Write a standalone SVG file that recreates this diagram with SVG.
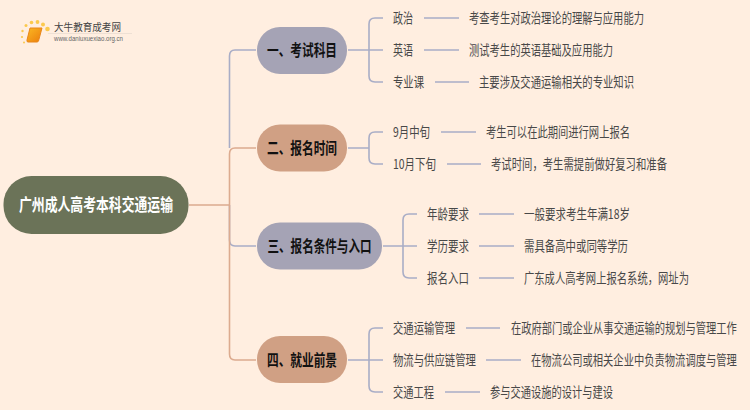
<svg xmlns="http://www.w3.org/2000/svg" width="750" height="410" viewBox="0 0 750 410">
<style>
text{font-family:"Noto Sans CJK SC","Liberation Sans",sans-serif;dominant-baseline:central;}
.leaf{font-size:13.500px;fill:#484848;}
.n{font-size:16px;font-weight:700;fill:#111;text-anchor:middle;}
.root{font-size:17px;font-weight:700;fill:#fff;text-anchor:middle;}
.b{fill:none;stroke:#a9adc6;stroke-width:1.6;}
.o{fill:none;stroke:#dcab8f;stroke-width:1.6;}
</style>
<defs><linearGradient id="book" x1="0" y1="0" x2="1" y2="1"><stop offset="0" stop-color="#fbb823"/><stop offset="1" stop-color="#ec7d0c"/></linearGradient></defs>
<rect width="750" height="410" fill="#ffeee0"/>
<g id="connectors">
<path class="b" d="M229.500 148V56Q229.500 50 235 50H256M229.500 205V240Q229.500 246 235 246H256"/>
<path class="o" d="M189 205H229.500M229.500 205V154Q229.500 148 235 148H256M229.500 205V354Q229.500 360 235 360H256"/>
<path class="b" d="M348 50H383M369 50V24Q369 18 375 18H383M369 50V76Q369 82 375 82H383"/>
<path class="b" d="M424 18H459M424 50H459M435 82H469"/>
<path class="b" d="M348 148H369M369 148V138Q369 132 375 132H383M369 148V158Q369 164 375 164H383"/>
<path class="b" d="M441 132H476M447 164H481"/>
<path class="b" d="M383 246H403M403 246V220Q403 214 409 214H417M403 246V272Q403 278 409 278H417M403 246H417"/>
<path class="b" d="M479 214H514M479 246H514M479 278H514"/>
<path class="b" d="M348 360H383M369 360V334Q369 328 375 328H383M369 360V386Q369 392 375 392H383"/>
<path class="b" d="M466 328H500M486 360H521M445 392H480"/>
</g>
<g id="logo">
<g fill="#fbc94d"><circle cx="47.500" cy="29" r="2.300"/><circle cx="43" cy="24.500" r="2"/><circle cx="37.500" cy="22" r="1.900"/><circle cx="31.500" cy="22.500" r="1.800"/><circle cx="26" cy="25.500" r="1.500"/><circle cx="22.500" cy="31" r="1.200"/><circle cx="22" cy="37" r="1.100"/><circle cx="24" cy="42.500" r="1"/></g>
<path d="M30 28H42L38.500 41Q38 42 37 42H28Q26.500 42 27 40Z" fill="url(#book)" stroke="#e8861a" stroke-width="1"/>
<text x="54" y="26.500" font-size="10.500" fill="#444" textLength="67" lengthAdjust="spacingAndGlyphs">大牛教育成考网</text>
<path d="M48 33.500H132" stroke="#eee0d4" stroke-width="1"/>
<text x="54" y="38.500" style="font-family:'Liberation Sans',sans-serif" font-size="6.500" fill="#666" textLength="69" lengthAdjust="spacingAndGlyphs">www.daniuxuexiao.org.cn</text>
</g>
<g id="root"><rect x="3.500" y="176" width="185" height="58" rx="28" fill="#6b7358"/><text class="root" x="96" y="203.500" textLength="154" lengthAdjust="spacingAndGlyphs">广州成人高考本科交通运输</text></g>
<g id="n1"><rect x="257" y="27" width="90" height="47" rx="23" fill="#a5a3b5"/><text class="n" x="302" y="49" textLength="70" lengthAdjust="spacingAndGlyphs">一、考试科目</text></g>
<g id="n2"><rect x="257" y="124.500" width="90" height="47" rx="23" fill="#d0a084"/><text class="n" x="302" y="147" textLength="70" lengthAdjust="spacingAndGlyphs">二、报名时间</text></g>
<g id="n3"><rect x="257" y="222.500" width="125" height="47" rx="23" fill="#a5a3b5"/><text class="n" x="319.500" y="245" textLength="104" lengthAdjust="spacingAndGlyphs">三、报名条件与入口</text></g>
<g id="n4"><rect x="257" y="336" width="90" height="47" rx="23" fill="#d0a084"/><text class="n" x="302" y="359" textLength="70" lengthAdjust="spacingAndGlyphs">四、就业前景</text></g>
<g id="l1"><text class="leaf" x="393" y="17" textLength="20" lengthAdjust="spacingAndGlyphs">政治</text></g>
<g id="l2"><text class="leaf" x="393" y="49" textLength="20" lengthAdjust="spacingAndGlyphs">英语</text></g>
<g id="l3"><text class="leaf" x="393" y="81" textLength="31" lengthAdjust="spacingAndGlyphs">专业课</text></g>
<g id="d1"><text class="leaf" x="469" y="17" textLength="175" lengthAdjust="spacingAndGlyphs">考查考生对政治理论的理解与应用能力</text></g>
<g id="d2"><text class="leaf" x="469" y="49" textLength="144" lengthAdjust="spacingAndGlyphs">测试考生的英语基础及应用能力</text></g>
<g id="d3"><text class="leaf" x="479" y="81" textLength="155" lengthAdjust="spacingAndGlyphs">主要涉及交通运输相关的专业知识</text></g>
<g id="l4"><text class="leaf" x="393" y="131" textLength="37" lengthAdjust="spacingAndGlyphs">9月中旬</text></g>
<g id="l5"><text class="leaf" x="393" y="163" textLength="43" lengthAdjust="spacingAndGlyphs">10月下旬</text></g>
<g id="d4"><text class="leaf" x="486" y="131" textLength="144" lengthAdjust="spacingAndGlyphs">考生可以在此期间进行网上报名</text></g>
<g id="d5"><text class="leaf" x="491" y="163" textLength="176" lengthAdjust="spacingAndGlyphs">考试时间，考生需提前做好复习和准备</text></g>
<g id="l6"><text class="leaf" x="427" y="213" textLength="42" lengthAdjust="spacingAndGlyphs">年龄要求</text></g>
<g id="l7"><text class="leaf" x="427" y="245" textLength="42" lengthAdjust="spacingAndGlyphs">学历要求</text></g>
<g id="l8"><text class="leaf" x="427" y="277" textLength="42" lengthAdjust="spacingAndGlyphs">报名入口</text></g>
<g id="d6"><text class="leaf" x="524" y="213" textLength="106" lengthAdjust="spacingAndGlyphs">一般要求考生年满18岁</text></g>
<g id="d7"><text class="leaf" x="524" y="245" textLength="104" lengthAdjust="spacingAndGlyphs">需具备高中或同等学历</text></g>
<g id="d8"><text class="leaf" x="524" y="277" textLength="165" lengthAdjust="spacingAndGlyphs">广东成人高考网上报名系统，网址为</text></g>
<g id="l9"><text class="leaf" x="393" y="327" textLength="62" lengthAdjust="spacingAndGlyphs">交通运输管理</text></g>
<g id="l10"><text class="leaf" x="393" y="359" textLength="83" lengthAdjust="spacingAndGlyphs">物流与供应链管理</text></g>
<g id="l11"><text class="leaf" x="393" y="391" textLength="41" lengthAdjust="spacingAndGlyphs">交通工程</text></g>
<g id="d9"><text class="leaf" transform="translate(511 327) scale(.761 1)">在政府部门或企业从事交通运输的规划与管理工作</text></g>
<g id="d10"><text class="leaf" transform="translate(531 359) scale(.763 1)">在物流公司或相关企业中负责物流调度与管理</text></g>
<g id="d11"><text class="leaf" x="490" y="391" textLength="123" lengthAdjust="spacingAndGlyphs">参与交通设施的设计与建设</text></g>
</svg>
